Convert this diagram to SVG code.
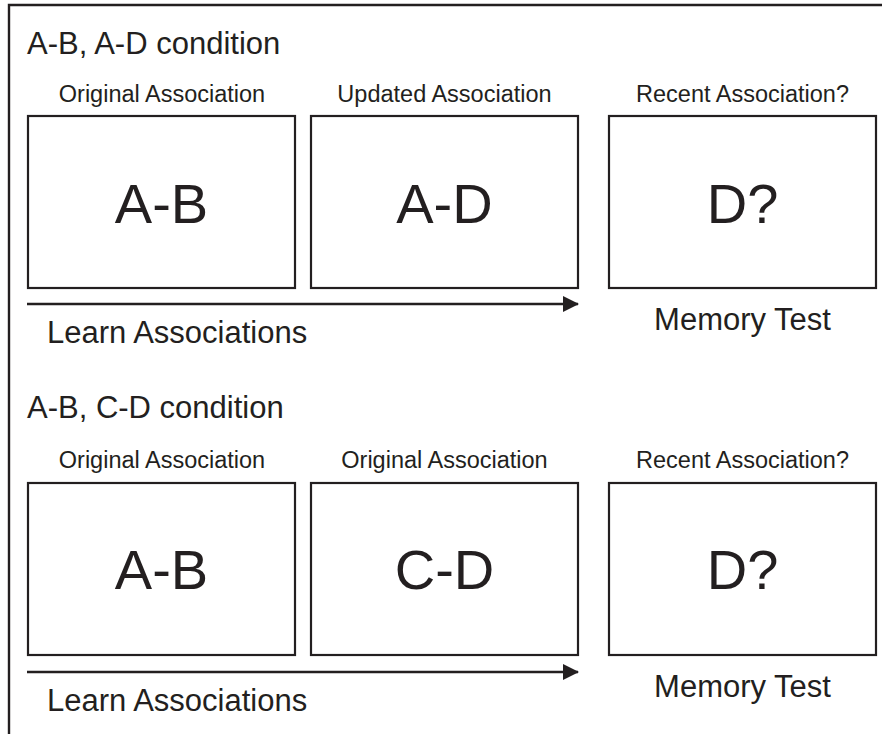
<svg xmlns="http://www.w3.org/2000/svg" width="882" height="734" viewBox="0 0 882 734">
<style>
  text { font-family: "Liberation Sans", Arial, sans-serif; fill: #231f20; }
  .box { fill: #ffffff; stroke: #231f20; stroke-width: 2.2; }
  .frame { fill: none; stroke: #231f20; stroke-width: 2.4; }
  .arrow { stroke: #231f20; stroke-width: 2.4; fill: none; }
  .title { font-size: 31px; }
  .label { font-size: 23.5px; text-anchor: middle; }
  .big { font-size: 56px; text-anchor: middle; }
  .caption { font-size: 31px; }
  .mid { text-anchor: middle; }
</style>
<defs>
  <marker id="head" viewBox="0 0 16 16" refX="15" refY="8" markerWidth="16" markerHeight="16" markerUnits="userSpaceOnUse" orient="auto">
    <path d="M0,0 L16,8 L0,16 Z" fill="#231f20"/>
  </marker>
</defs>
<rect width="882" height="734" fill="#ffffff"/>
<path class="frame" d="M9,734 L9,5 L882,5"/>

<g id="section1">
  <text class="title" x="27" y="54">A-B, A-D condition</text>
  <g id="n1">
    <text class="label" x="162" y="102">Original Association</text>
    <rect class="box" x="28" y="116" width="267" height="172"/>
    <text class="big" x="161.5" y="223">A-B</text>
  </g>
  <g id="n2">
    <text class="label" x="444.5" y="102">Updated Association</text>
    <rect class="box" x="311" y="116" width="267" height="172"/>
    <text class="big" x="444.5" y="223">A-D</text>
  </g>
  <g id="n3">
    <text class="label" x="742.5" y="102">Recent Association?</text>
    <rect class="box" x="609" y="116" width="267" height="172"/>
    <text class="big" x="742.5" y="223">D?</text>
    <text class="caption mid" x="742.5" y="330">Memory Test</text>
  </g>
  <text class="caption" x="47" y="343">Learn Associations</text>
</g>

<g id="section2">
  <text class="title" x="27" y="418">A-B, C-D condition</text>
  <g id="n4">
    <text class="label" x="162" y="468">Original Association</text>
    <rect class="box" x="28" y="483" width="267" height="172"/>
    <text class="big" x="161.5" y="589">A-B</text>
  </g>
  <g id="n5">
    <text class="label" x="444.5" y="468">Original Association</text>
    <rect class="box" x="311" y="483" width="267" height="172"/>
    <text class="big" x="444.5" y="589">C-D</text>
  </g>
  <g id="n6">
    <text class="label" x="742.5" y="468">Recent Association?</text>
    <rect class="box" x="609" y="483" width="267" height="172"/>
    <text class="big" x="742.5" y="589">D?</text>
    <text class="caption mid" x="742.5" y="697">Memory Test</text>
  </g>
  <text class="caption" x="47" y="711">Learn Associations</text>
</g>

<g id="connectors">
  <line class="arrow" x1="27" y1="304" x2="578" y2="304" marker-end="url(#head)"/>
  <line class="arrow" x1="27" y1="672" x2="578" y2="672" marker-end="url(#head)"/>
</g>
</svg>
